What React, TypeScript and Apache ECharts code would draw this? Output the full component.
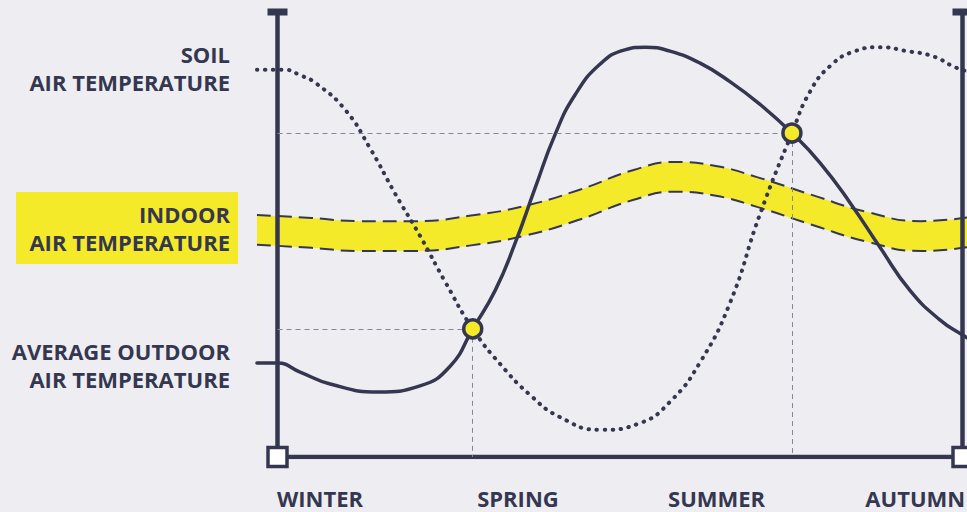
import React, { useEffect, useRef } from "react";
import * as echarts from "echarts";

// ---- data (x: 0 = left axis, 100 = right axis; y: 0 = bottom axis, 100 = top of axis) ----
const seasons = ["WINTER", "SPRING", "SUMMER", "AUTUMN"];
const seasonTicks = [6.2, 35.1, 64.1, 93.1];

const bandX = [-3, 5, 12, 20, 28, 36, 44, 52, 58, 64, 70, 78, 86, 94, 101];
const indoorUpper = [54.4, 53.7, 53.0, 53.0, 54.2, 56.4, 60.0, 64.5, 66.3, 65.4, 62.9, 58.9, 55.1, 53.0, 53.9];
const indoorLower = [47.7, 47.0, 46.3, 46.3, 47.5, 49.7, 53.3, 57.8, 59.6, 58.7, 56.2, 52.2, 48.4, 46.3, 47.2];

const outdoorX = [-3, 0, 3.3, 7.7, 14.7, 20.8, 25.2, 28.5, 31.8, 34.7, 37.6, 40.5, 43.4, 47.1, 50.7, 53.7, 57.3, 61.7, 66.1, 70.4, 75.1, 79.2, 83.6, 88.0, 92.3, 96.7, 100, 101];
const outdoorY = [21.1, 21.1, 19.1, 16.4, 14.6, 16.0, 20.4, 28.8, 37.5, 48.1, 60.4, 72.4, 81.3, 88.3, 91.5, 92.1, 91.2, 88.5, 84.3, 79.3, 72.8, 66.1, 57.1, 47.0, 37.5, 30.8, 27.4, 26.5];

const soilX = [-3, 1.1, 3.3, 5.6, 9.9, 13.5, 17.2, 20.8, 24.5, 28.5, 32.5, 36.9, 41.2, 47.1, 52.9, 57.3, 61.7, 66.1, 70.4, 75.1, 77.7, 80.7, 84.3, 88.0, 91.9, 95.6, 98.9, 101];
const soilY = [87.0, 87.0, 85.8, 84.0, 78.0, 69.4, 59.1, 49.7, 39.3, 28.8, 20.9, 13.9, 9.0, 6.1, 7.6, 12.4, 21.3, 34.8, 54.4, 72.8, 82.0, 87.9, 91.2, 92.1, 91.2, 90.1, 87.6, 86.5];

const crossX = [28.5, 75.1];
const crossY = [28.8, 72.8];

// axis frame: left axis, bottom axis, right axis
const frameLeft = [[0, 0], [0, 100]];
const frameBottom = [[0, 0], [100, 0]];
const frameRight = [[100, 0], [100, 100]];
const capPoints = [[0, 100], [100, 100]];
const cornerPoints = [[0, 0], [100, 0]];

const seriesLabels = ["SOIL\nAIR TEMPERATURE", "INDOOR\nAIR TEMPERATURE", "AVERAGE OUTDOOR\nAIR TEMPERATURE"];

// ---- styles ----
const BG = "#eeeef2";
const NAVY = "#353750";
const YELLOW = "#f4ea2a";
const GUIDE = "#858799";
const FONT = '"Open Sans", "Noto Sans", sans-serif';

const zip = (xs: number[], ys: number[]) => xs.map((x, i) => [x, ys[i]]);

export default function App() {
  const ref = useRef<HTMLDivElement>(null);

  useEffect(() => {
    if (!ref.current) return;
    const chart = echarts.init(ref.current, undefined, { renderer: "svg" });

    const guideData: any[] = [];
    crossX.forEach((x, i) => {
      const y = crossY[i];
      guideData.push([{ coord: [0, y] }, { coord: [x, y] }]);
      guideData.push([{ coord: [x, y] }, { coord: [x, 0] }]);
    });

    const label = (y: number, text: string) => ({
      type: "text",
      x: 230,
      y,
      z: 20,
      style: {
        text,
        align: "right",
        verticalAlign: "middle",
        fill: NAVY,
        fontFamily: FONT,
        fontWeight: 700,
        fontSize: 22,
        lineHeight: 28,
      },
    });

    const frameSeries = (name: string, data: number[][]) => ({
      name,
      type: "line",
      z: 3,
      symbol: "none",
      data,
      lineStyle: { color: NAVY, width: 4.5, cap: "butt" },
    });

    const option: any = {
      animation: false,
      backgroundColor: BG,
      grid: { left: 256.95, right: -2.35, top: 12, bottom: 55, containLabel: false, outerBoundsMode: "none" },
      xAxis: {
        type: "value",
        min: -3,
        max: 101,
        axisLine: { show: false },
        axisTick: { show: false },
        splitLine: { show: false },
        axisLabel: {
          show: true,
          customValues: seasonTicks,
          formatter: (v: number) => {
            const i = seasonTicks.indexOf(v);
            return i >= 0 ? seasons[i] : "";
          },
          margin: 30,
          color: NAVY,
          fontFamily: FONT,
          fontWeight: 700,
          fontSize: 22,
        },
      },
      yAxis: {
        type: "value",
        min: 0,
        max: 100,
        axisLine: { show: false },
        axisTick: { show: false },
        axisLabel: { show: false },
        splitLine: { show: false },
      },
      series: [
        {
          name: "indoorUpper",
          type: "line",
          z: 1,
          smooth: true,
          symbol: "none",
          data: zip(bandX, indoorUpper),
          lineStyle: { color: NAVY, width: 2, type: [14, 7] },
          areaStyle: { color: YELLOW, opacity: 1 },
        },
        {
          name: "indoorLower",
          type: "line",
          z: 1,
          smooth: true,
          symbol: "none",
          data: zip(bandX, indoorLower),
          lineStyle: { color: NAVY, width: 2, type: [14, 7] },
          areaStyle: { color: BG, opacity: 1 },
        },
        {
          name: "guides",
          type: "line",
          z: 2,
          data: [],
          markLine: {
            silent: true,
            symbol: ["none", "none"],
            label: { show: false },
            lineStyle: { color: GUIDE, width: 1, type: [5, 4] },
            data: guideData,
          },
        },
        {
          name: "soil",
          type: "line",
          z: 2,
          smooth: true,
          symbol: "none",
          data: zip(soilX, soilY),
          lineStyle: { color: NAVY, width: 4, type: [0.5, 7.5], cap: "round" },
        },
        {
          name: "outdoor",
          type: "line",
          z: 2,
          smooth: true,
          symbol: "none",
          data: zip(outdoorX, outdoorY),
          lineStyle: { color: NAVY, width: 3.5, cap: "round" },
        },
        frameSeries("axisLeft", frameLeft),
        frameSeries("axisBottom", frameBottom),
        frameSeries("axisRight", frameRight),
        {
          name: "caps",
          type: "scatter",
          z: 10,
          symbol: "rect",
          symbolSize: [20, 7],
          data: capPoints,
          itemStyle: { color: NAVY, opacity: 1 },
        },
        {
          name: "corners",
          type: "scatter",
          z: 10,
          symbol: "rect",
          symbolSize: 19,
          data: cornerPoints,
          itemStyle: { color: "#ffffff", borderColor: NAVY, borderWidth: 3.5, opacity: 1 },
        },
        {
          name: "crossings",
          type: "scatter",
          z: 10,
          symbol: "circle",
          symbolSize: 18,
          data: zip(crossX, crossY),
          itemStyle: { color: YELLOW, borderColor: NAVY, borderWidth: 3.5, opacity: 1 },
        },
      ],
      graphic: [
        { type: "rect", shape: { x: 16, y: 192, width: 222, height: 72 }, style: { fill: YELLOW }, z: 15 },
        label(67.5, seriesLabels[0]),
        label(228, seriesLabels[1]),
        label(365, seriesLabels[2]),
      ],
    };

    chart.setOption(option);
    return () => chart.dispose();
  }, []);

  return (
    <div
      ref={ref}
      style={{ position: "absolute", left: 0, top: 0, width: 967, height: 512, background: BG }}
    />
  );
}
